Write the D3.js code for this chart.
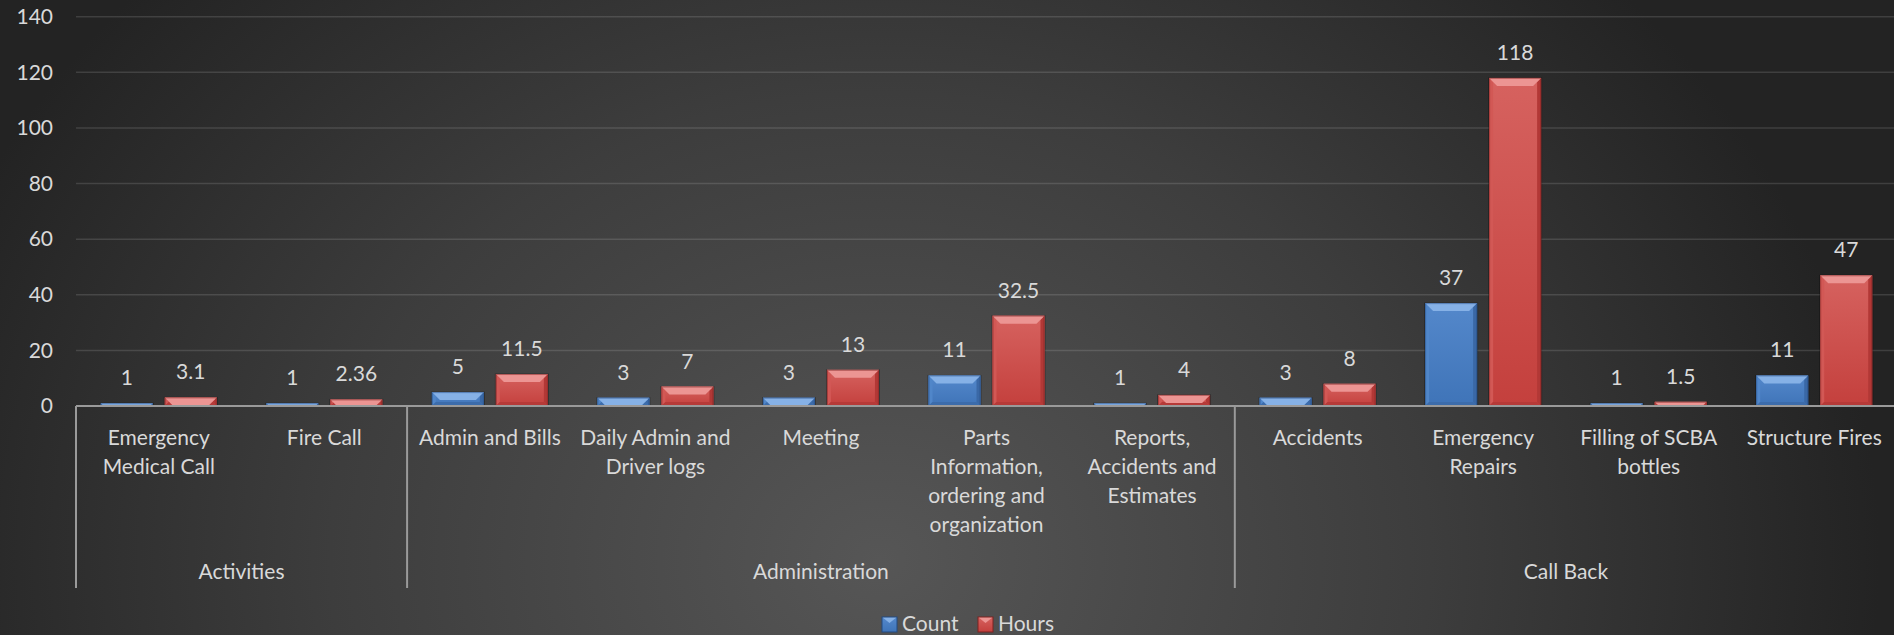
<!DOCTYPE html>
<html>
<head>
<meta charset="utf-8">
<script src="https://cdn.jsdelivr.net/npm/d3@7"></script>
<style>
  html, body { margin: 0; padding: 0; background: #2a2a2a; overflow: hidden; }
  svg { display: block; }
  text { font-family: Lato, "Open Sans", sans-serif; fill: #d9d9d9; }
</style>
</head>
<body>
<svg id="chart" width="1894" height="635"></svg>
<script>
// Work log: number of tasks and hours spent, by task type
const categories = [
  "Emergency\nMedical  Call", "Fire Call",
  "Admin and Bills", "Daily Admin and\nDriver logs", "Meeting",
  "Parts\nInformation,\nordering and\norganization", "Reports,\nAccidents and\nEstimates",
  "Accidents", "Emergency\nRepairs", "Filling of SCBA\nbottles", "Structure Fires"
];
const groups = ["Activities", "Administration", "Call Back"];
const groupSizes = [2, 5, 4];
const seriesNames = ["Count", "Hours"];
const countValues = [1, 1, 5, 3, 3, 11, 1, 3, 37, 1, 11];
const hoursValues = [3.1, 2.36, 11.5, 7, 13, 32.5, 4, 8, 118, 1.5, 47];
const yTicks = [0, 20, 40, 60, 80, 100, 120, 140];

const W = 1894, H = 635;
const plot = { left: 76, right: 1897, top: 16.7, bottom: 406 };
const fontSize = 21;
const svg = d3.select("#chart");
const defs = svg.append("defs");

// Chart area background: soft radial glow on dark grey
const bg = defs.append("radialGradient")
  .attr("id", "bgGrad").attr("gradientUnits", "userSpaceOnUse")
  .attr("cx", 880).attr("cy", 560).attr("r", 1000)
  .attr("gradientTransform", "translate(880,560) scale(1,0.85) translate(-880,-560)");
bg.append("stop").attr("offset", 0).attr("stop-color", "#565656");
bg.append("stop").attr("offset", 0.55).attr("stop-color", "#3d3d3d");
bg.append("stop").attr("offset", 1).attr("stop-color", "#232323");
svg.append("rect").attr("width", W).attr("height", H).attr("fill", "url(#bgGrad)");

const palette = {
  Count: { top: "#86b1e6", base0: "#5488cb", base1: "#3f74b8", left: "#5086c9", right: "#3a68a6", bottom: "#3c6cab", edge: "#234a80" },
  Hours: { top: "#ec9593", base0: "#d6625f", base1: "#c4403d", left: "#d25855", right: "#b23836", bottom: "#b63a38", edge: "#7d2221" }
};
seriesNames.forEach(s => {
  const g = defs.append("linearGradient").attr("id", "grad" + s)
    .attr("x1", 0).attr("y1", 0).attr("x2", 0).attr("y2", 1);
  g.append("stop").attr("offset", 0).attr("stop-color", palette[s].base0);
  g.append("stop").attr("offset", 1).attr("stop-color", palette[s].base1);
});

const x = d3.scaleBand().domain(categories).range([plot.left, plot.right]).paddingInner(0).paddingOuter(0);
const inner = d3.scaleBand().domain(seriesNames)
  .range([(x.bandwidth() - 116) / 2, (x.bandwidth() + 116) / 2])
  .paddingInner(12 / 64).paddingOuter(0);
const y = d3.scaleLinear().domain([0, 140]).range([plot.bottom, plot.top]);

// Gridlines
svg.append("g").selectAll("line").data(yTicks.filter(t => t > 0)).join("line")
  .attr("x1", plot.left).attr("x2", W)
  .attr("y1", d => y(d)).attr("y2", d => y(d))
  .attr("stroke", "#ffffff").attr("stroke-opacity", 0.13).attr("stroke-width", 1.5);

// Y axis labels
const yAxis = d3.axisLeft(y).tickValues(yTicks).tickSize(0).tickPadding(23);
const yg = svg.append("g").attr("transform", `translate(${plot.left},0)`).call(yAxis);
yg.select(".domain").remove();
yg.selectAll("text").attr("font-size", fontSize).attr("fill", "#d9d9d9")
  .style("font-family", "Lato, 'Open Sans', sans-serif");

// Bars with a beveled top edge
const rows = categories.map((c, i) => ({ cat: c, Count: countValues[i], Hours: hoursValues[i] }));
const bevel = 8, sideBevel = 4;
const barG = svg.append("g");
rows.forEach(r => {
  seriesNames.forEach(s => {
    const v = r[s];
    const bx = x(r.cat) + inner(s), bw = inner.bandwidth();
    const by = y(v), bh = y(0) - y(v);
    const b = Math.min(bevel, bh, bw / 2);
    const sb = Math.min(sideBevel, bh / 2);
    const p = palette[s];
    const g = barG.append("g");
    g.append("rect").attr("x", bx - 1).attr("y", by - 0.5).attr("width", bw + 2).attr("height", bh + 0.5)
      .attr("fill", "#000").attr("opacity", 0.3);
    g.append("rect").attr("x", bx).attr("y", by).attr("width", bw).attr("height", bh)
      .attr("fill", `url(#grad${s})`);
    const poly = pts => g.append("polygon").attr("points", pts.map(q => q.join(",")).join(" "));
    poly([[bx, by], [bx + sb, by + sb], [bx + sb, by + bh - sb], [bx, by + bh]]).attr("fill", p.left);
    poly([[bx + bw, by], [bx + bw - sb, by + sb], [bx + bw - sb, by + bh - sb], [bx + bw, by + bh]]).attr("fill", p.right);
    poly([[bx, by + bh], [bx + sb, by + bh - sb], [bx + bw - sb, by + bh - sb], [bx + bw, by + bh]]).attr("fill", p.bottom);
    poly([[bx, by], [bx + bw, by], [bx + bw - b, by + b], [bx + b, by + b]]).attr("fill", p.top);
    g.append("rect").attr("x", bx + 0.5).attr("y", by + 0.5).attr("width", Math.max(0, bw - 1)).attr("height", Math.max(0, bh - 1))
      .attr("fill", "none").attr("stroke", p.edge).attr("stroke-opacity", 0.5).attr("stroke-width", 1);
    // value label
    svg.append("text").attr("x", bx + bw / 2).attr("y", by - 18)
      .attr("text-anchor", "middle").attr("font-size", fontSize).text(v);
  });
});

// Category axis line
svg.append("line").attr("x1", plot.left).attr("x2", W).attr("y1", y(0)).attr("y2", y(0))
  .attr("stroke", "#9a9a9a").attr("stroke-width", 2);

// Category labels (multi-line)
const catG = svg.append("g");
categories.forEach(c => {
  const t = catG.append("text").attr("text-anchor", "middle").attr("font-size", fontSize);
  c.split("\n").forEach((line, i) => {
    t.append("tspan").attr("x", x(c) + x.bandwidth() / 2).attr("y", 445 + i * 29).text(line);
  });
});

// Group separators and group labels
let start = 0;
const sepX = [plot.left];
groups.forEach((grp, gi) => {
  const first = categories[start], last = categories[start + groupSizes[gi] - 1];
  const x0 = x(first), x1 = x(last) + x.bandwidth();
  sepX.push(x1);
  svg.append("text").attr("x", (x0 + x1) / 2).attr("y", 579)
    .attr("text-anchor", "middle").attr("font-size", fontSize).text(grp);
  start += groupSizes[gi];
});
svg.append("g").selectAll("line").data(sepX).join("line")
  .attr("x1", d => d).attr("x2", d => d).attr("y1", y(0)).attr("y2", 588)
  .attr("stroke", "#9a9a9a").attr("stroke-width", 2);

// Legend
const legend = svg.append("g");
const legendPos = { Count: 882, Hours: 978 };
seriesNames.forEach(s => {
  const lx = legendPos[s], ly = 617, sz = 15, p = palette[s];
  const g = legend.append("g");
  g.append("rect").attr("x", lx).attr("y", ly).attr("width", sz).attr("height", sz).attr("fill", `url(#grad${s})`);
  g.append("polygon").attr("points", `${lx},${ly} ${lx + sz},${ly} ${lx + sz / 2},${ly + 6}`).attr("fill", p.top);
  g.append("rect").attr("x", lx).attr("y", ly).attr("width", sz).attr("height", sz)
    .attr("fill", "none").attr("stroke", p.edge).attr("stroke-width", 1);
  legend.append("text").attr("x", lx + 20).attr("y", ly + 14).attr("font-size", fontSize).text(s);
});
</script>
</body>
</html>
